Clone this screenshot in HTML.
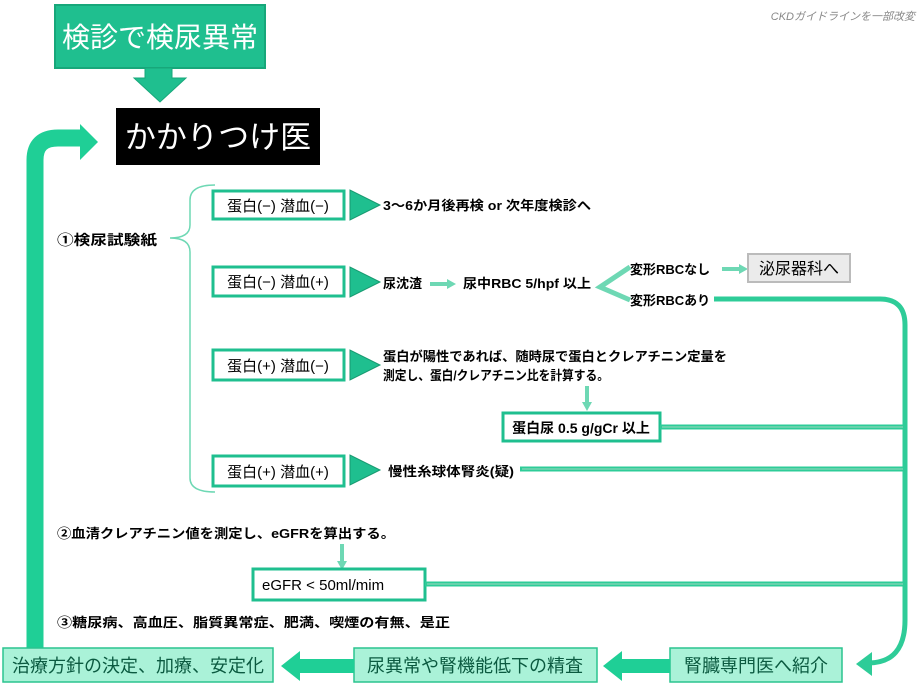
<!DOCTYPE html>
<html><head><meta charset="utf-8"><style>
html,body{margin:0;padding:0;background:#fff;}
svg{display:block;font-family:"Liberation Sans","Noto Sans CJK JP",sans-serif;}
</style></head><body>
<svg width="920" height="690" viewBox="0 0 920 690" xmlns="http://www.w3.org/2000/svg">
<text x="915" y="20" font-size="11" fill="#888" font-style="italic" text-anchor="end">CKDガイドラインを一部改変</text>
<rect x="55" y="5" width="210" height="63" fill="#1fbf8f" stroke="#17a77a" stroke-width="2"/>
<text x="160" y="47" font-size="28" fill="#fff" text-anchor="middle">検診で検尿異常</text>
<polygon points="145,68 172,68 172,78 186,78 160,102 134,78 145,78" fill="#1fbf8f" stroke="#17a77a" stroke-width="1"/>
<rect x="116" y="108" width="204" height="57" fill="#000"/>
<text x="218" y="148" font-size="31" fill="#fff" text-anchor="middle">かかりつけ医</text>
<path d="M35,650 L35,160 Q35,138 58,138 L82,138" fill="none" stroke="#1fcf96" stroke-width="17"/>
<polygon points="80,124 98,142 80,160" fill="#1fcf96"/>
<path d="M215,185 Q190,185 190,200 L190,225 Q190,238 170,238 Q190,238 190,252 L190,478 Q190,492 215,492" fill="none" stroke="#6ed8b4" stroke-width="1.5"/>
<text x="57" y="245" font-size="14" font-weight="bold" fill="#000" textLength="100" lengthAdjust="spacingAndGlyphs">①検尿試験紙</text>
<g fill="#fff" stroke="#1fbf8f" stroke-width="3">
<rect x="213" y="191" width="131" height="28"/>
<rect x="213" y="267" width="131" height="29"/>
<rect x="213" y="350" width="131" height="30"/>
<rect x="213" y="456" width="131" height="30"/>
</g>
<g font-size="15" fill="#000" text-anchor="middle">
<text x="278" y="211">蛋白(−) 潜血(−)</text>
<text x="278" y="287">蛋白(−) 潜血(+)</text>
<text x="278" y="371">蛋白(+) 潜血(−)</text>
<text x="278" y="477">蛋白(+) 潜血(+)</text>
</g>
<g fill="#1fbf8f" stroke="#179a70" stroke-width="1">
<polygon points="350,190 350,220 380,205"/>
<polygon points="350,267 350,297 380,282"/>
<polygon points="350,350 350,380 380,365"/>
<polygon points="350,455 350,485 380,470"/>
</g>
<g font-size="13" fill="#000" font-weight="bold" lengthAdjust="spacingAndGlyphs">
<text x="383" y="210" textLength="208" lengthAdjust="spacingAndGlyphs">3〜6か月後再検 or 次年度検診へ</text>
<text x="383" y="288">尿沈渣</text>
<text x="463" y="288" textLength="128" lengthAdjust="spacingAndGlyphs">尿中RBC 5/hpf 以上</text>
<text x="630" y="274">変形RBCなし</text>
<text x="630" y="305">変形RBCあり</text>
<text x="383" y="361" textLength="344" lengthAdjust="spacingAndGlyphs">蛋白が陽性であれば、随時尿で蛋白とクレアチニン定量を</text>
<text x="383" y="380" textLength="226" lengthAdjust="spacingAndGlyphs">測定し、蛋白/クレアチニン比を計算する。</text>
<text x="388" y="476" textLength="126" lengthAdjust="spacingAndGlyphs">慢性糸球体腎炎(疑)</text>
<text x="57" y="538" textLength="338" lengthAdjust="spacingAndGlyphs">②血清クレアチニン値を測定し、eGFRを算出する。</text>
<text x="57" y="627" textLength="393" lengthAdjust="spacingAndGlyphs">③糖尿病、高血圧、脂質異常症、肥満、喫煙の有無、是正</text>
</g>
<g stroke="#6ed8b4" stroke-width="4" fill="#6ed8b4">
<line x1="430" y1="284" x2="448" y2="284"/>
<line x1="722" y1="269" x2="740" y2="269"/>
<line x1="587" y1="386" x2="587" y2="403"/>
<line x1="342" y1="544" x2="342" y2="562"/>
</g>
<g fill="#6ed8b4">
<polygon points="447,279 456,284 447,289"/>
<polygon points="739,264 748,269 739,274"/>
<polygon points="582,402 587,411 592,402"/>
<polygon points="337,561 342,570 347,561"/>
</g>
<path d="M630,267 L600,287 L630,300" fill="none" stroke="#6ed8b4" stroke-width="5"/>
<rect x="748" y="254" width="102" height="28" fill="#ebebeb" stroke="#bbb" stroke-width="2"/>
<text x="799" y="274" font-size="16" fill="#000" text-anchor="middle">泌尿器科へ</text>
<rect x="503" y="413" width="157" height="28" fill="#fff" stroke="#1fbf8f" stroke-width="3"/>
<text x="581" y="433" font-size="14" font-weight="bold" fill="#000" text-anchor="middle">蛋白尿 0.5 g/gCr 以上</text>
<rect x="253" y="569" width="172" height="31" fill="#fff" stroke="#1fbf8f" stroke-width="3"/>
<text x="262" y="590" font-size="15" fill="#000">eGFR &lt; 50ml/mim</text>
<g fill="none" stroke="#2ecc98" stroke-width="5">
<path d="M714,299 L880,299 Q905,299 905,325 L905,620 Q905,663 868,663"/>
<line x1="660" y1="427" x2="905" y2="427"/>
<line x1="520" y1="469" x2="905" y2="469"/>
<line x1="425" y1="584" x2="905" y2="584"/>
</g>
<g stroke="#a0d8c0" stroke-width="1">
<line x1="662" y1="427" x2="903" y2="427"/>
<line x1="522" y1="469" x2="903" y2="469"/>
<line x1="427" y1="584" x2="903" y2="584"/>
</g>
<polygon points="872,652 856,664 872,676" fill="#2ecc98"/>
<g fill="#aaf2d8" stroke="#2bc48f" stroke-width="1.5">
<rect x="670" y="648" width="172" height="34"/>
<rect x="354" y="648" width="243" height="34"/>
<rect x="3" y="648" width="270" height="34"/>
</g>
<g font-size="18" fill="#0b5a40" text-anchor="middle">
<text x="756" y="672">腎臓専門医へ紹介</text>
<text x="475" y="672">尿異常や腎機能低下の精査</text>
<text x="138" y="672">治療方針の決定、加療、安定化</text>
</g>
<g fill="#1fcf96">
<rect x="620" y="659" width="50" height="14"/>
<polygon points="622,651 603,666 622,681"/>
<rect x="298" y="659" width="56" height="14"/>
<polygon points="300,651 281,666 300,681"/>
</g>
</svg>
</body></html>
